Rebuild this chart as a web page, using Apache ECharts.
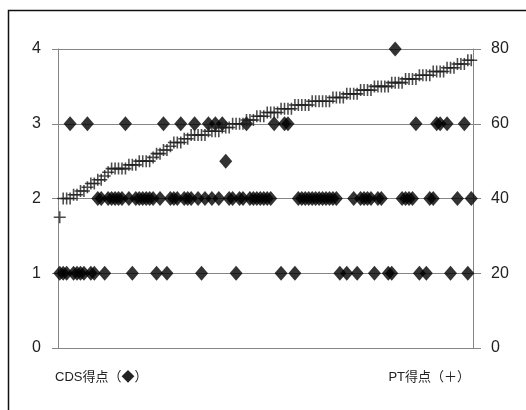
<!DOCTYPE html>
<html>
<head>
<meta charset="utf-8">
<script src="https://cdn.jsdelivr.net/npm/echarts@6/dist/echarts.min.js"></script>
<style>
  html, body { margin: 0; padding: 0; background: #fff; }
  #chart { width: 526px; height: 410px; }
</style>
</head>
<body>
<div id="chart"></div>
<script>
// Subjects ordered by PT score; one CDS score per subject (null = not recorded)
const ptScores = [
  35, 40, 40, 40, 41, 41, 42, 42, 43, 44,
  44, 45, 45, 46, 47, 48, 48, 48, 48, 48,
  49, 49, 49, 50, 50, 50, 50, 51, 52, 52,
  53, 53, 54, 55, 55, 55, 56, 56, 57, 57,
  57, 57, 57, 58, 58, 58, 58, 59, 59, 59,
  60, 60, 60, 60, 61, 61, 61, 62, 62, 62,
  63, 63, 63, 63, 64, 64, 64, 64, 65, 65,
  65, 65, 65, 66, 66, 66, 66, 66, 66, 67,
  67, 67, 67, 68, 68, 68, 68, 69, 69, 69,
  69, 70, 70, 70, 70, 70, 71, 71, 71, 71,
  72, 72, 72, 72, 73, 73, 73, 73, 74, 74,
  74, 74, 75, 75, 75, 76, 76, 76, 77, 77
];
const cdsScores = [
  1, 1, 1, 3, 1, 1, 1, 1, 3, 1,
  1, 2, 2, 1, 2, 2, 2, 2, 2, 3,
  2, 1, 2, 2, 2, 2, 2, 2, 1, 2,
  3, 1, 2, 2, 2, 3, 2, 2, 2, 3,
  2, 1, 2, 3, 2, 3, 2, 3, 2.5, 2,
  2, 1, 2, 2, 3, 2, 2, 2, 2, 2,
  2, 2, 3, null, 1, 3, 3, null, 1, 2,
  2, 2, 2, 2, 2, 2, 2, 2, 2, 2,
  2, 1, null, 1, null, 2, 1, 2, 2, 2,
  2, 1, 2, 2, null, 1, 1, 4, null, 2,
  2, 2, 2, 3, 1, null, 1, 2, 2, 3,
  3, null, 3, 1, null, 2, null, 3, 1, 2
];
const cdsTicks = [0, 1, 2, 3, 4];
const ptTicks = [0, 20, 40, 60, 80];
const cdsLabel = 'CDS得点（◆）';
const ptLabel = 'PT得点（＋）';

const n = ptScores.length;
const cdsData = cdsScores.map((v, i) => [i + 0.5, v]).filter(d => d[1] !== null);
const ptData = ptScores.map((v, i) => [i + 0.5, v]);

// plus sign drawn as a thin filled outline so it scales with symbolSize
const plusPath = 'path://M4.35,0H5.65V4.35H10V5.65H5.65V10H4.35V5.65H0V4.35H4.35Z';
const axisGray = '#858585';
const font = '"Liberation Sans", Arial, "Noto Sans CJK JP", sans-serif';

const chart = echarts.init(document.getElementById('chart'), null, { renderer: 'canvas' });
chart.setOption({
  animation: false,
  backgroundColor: '#fff',
  grid: { left: 58, right: 53, top: 49, bottom: 62, containLabel: false },
  xAxis: {
    type: 'value', min: 0, max: n,
    axisLine: { show: true, lineStyle: { color: axisGray, width: 1 } },
    axisTick: { show: false }, axisLabel: { show: false }, splitLine: { show: false }
  },
  yAxis: [
    {
      type: 'value', position: 'left',
      min: cdsTicks[0], max: cdsTicks[cdsTicks.length - 1], interval: cdsTicks[1] - cdsTicks[0],
      axisLine: { show: true, lineStyle: { color: axisGray, width: 1 } },
      axisTick: { show: true, inside: false, length: 6, lineStyle: { color: axisGray } },
      axisLabel: { margin: 17, fontSize: 16, color: '#222', fontFamily: font },
      splitLine: { show: true, lineStyle: { color: axisGray, width: 1 } }
    },
    {
      type: 'value', position: 'right',
      min: ptTicks[0], max: ptTicks[ptTicks.length - 1], interval: ptTicks[1] - ptTicks[0],
      axisLine: { show: true, lineStyle: { color: axisGray, width: 1 } },
      axisTick: { show: true, inside: false, length: 8, lineStyle: { color: axisGray } },
      axisLabel: { margin: 18, fontSize: 16, color: '#222', fontFamily: font },
      splitLine: { show: false }
    }
  ],
  series: [
    {
      name: 'CDS', type: 'scatter', yAxisIndex: 0,
      symbol: 'diamond', symbolSize: [13, 15],
      itemStyle: { color: '#000' },
      data: cdsData
    },
    {
      name: 'PT', type: 'scatter', yAxisIndex: 1,
      symbol: plusPath, symbolSize: [12, 12],
      itemStyle: { color: '#1e1e1e' },
      data: ptData
    }
  ],
  graphic: [
    {
      type: 'rect', silent: true,
      shape: { x: 8.5, y: 10.5, width: 700, height: 700 },
      style: { fill: null, stroke: '#111', lineWidth: 1.5 }
    },
    {
      type: 'text', left: 55, top: 371,
      style: { text: cdsLabel, font: '13px ' + font, fill: '#222' }
    },
    {
      type: 'text', right: 56, top: 371,
      style: { text: ptLabel, font: '13px ' + font, fill: '#222' }
    }
  ]
});
</script>
</body>
</html>
